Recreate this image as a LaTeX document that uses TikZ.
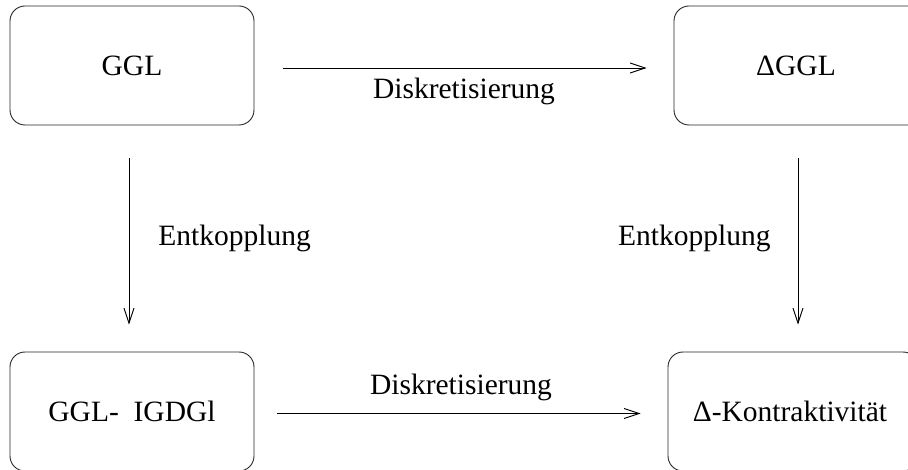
\documentclass[tikz,border=0pt]{standalone}
\usepackage{fontspec}
\setmainfont{Liberation Serif}
\usetikzlibrary{arrows.meta}
\begin{document}
\begin{tikzpicture}[x=1pt,y=-1pt,
  box/.style={draw=black!85,line width=0.9pt,rounded corners=15pt,minimum width=244pt,minimum height=119pt,inner sep=0pt,font=\fontsize{29.5}{34}\selectfont},
  arr/.style={draw=black,line width=0.9pt,-{Straight Barb[length=15pt,width=10pt,line width=0.9pt]}},
  lbl/.style={font=\fontsize{29.5}{34}\selectfont,inner sep=0pt}]
\useasboundingbox (0,0) rectangle (908,470);
\node[box] (A) at (132,65.5) {GGL};
\node[box,minimum width=250pt] (B) at (799,65.5) {\hspace*{-6pt}ΔGGL};
\node[box,minimum width=250pt] (D) at (793,411.5) {\hspace*{-6pt}Δ-Kontraktivität};
\node[box] (C) at (132,411.5) {GGL-\ \ IGDGl};
\draw[arr,shorten <=29pt,shorten >=27pt] ([yshift=-2.5pt]A.east) -- ([yshift=-2.5pt]B.west)
  node[lbl,midway,below=10pt] (l1) {Diskretisierung};
\draw[arr,shorten <=23pt,shorten >=27pt] ([yshift=-2pt]C.east) -- ([yshift=-2pt]D.west)
  node[lbl,midway,above=12pt] (l2) {Diskretisierung};
\draw[arr,shorten <=33pt,shorten >=27pt] ([xshift=-3pt]A.south) -- ([xshift=-3pt]A.south |- C.north)
  node[lbl,midway,right=29pt] (l3) {Entkopplung};
\draw[arr,shorten <=33pt,shorten >=27pt] ([xshift=-1pt]B.south) -- ([xshift=-1pt]B.south |- D.north)
  node[lbl,midway,left=27pt] (l4) {Entkopplung};
\end{tikzpicture}
\end{document}
